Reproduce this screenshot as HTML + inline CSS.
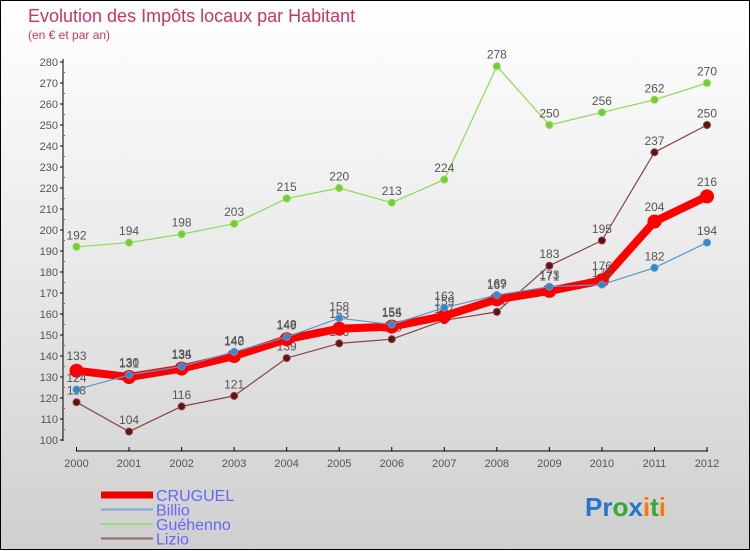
<!DOCTYPE html>
<html><head><meta charset="utf-8"><style>
body{margin:0;width:750px;height:550px;overflow:hidden;font-family:"Liberation Sans",sans-serif}
#wrap{position:relative;width:748px;height:548px;border:1px solid #000;background:linear-gradient(#fff,#f2f2f2 30%,#cfcfcf)}
svg{position:absolute;left:0;top:0}
</style></head><body>
<div id="wrap">
<svg id="c" width="750" height="550"></svg>
</div>
<script>
const years=[2000,2001,2002,2003,2004,2005,2006,2007,2008,2009,2010,2011,2012];
const cruguel=[133,130,134,140,148,153,154,159,167,171,176,204,216];
const billio=[124,131,135,142,149,158,155,163,169,173,174,182,194];
const guehenno=[192,194,198,203,215,220,213,224,278,250,256,262,270];
const lizio=[118,104,116,121,139,146,148,157,161,183,195,237,250];
const yTicks=[100,110,120,130,140,150,160,170,180,190,200,210,220,230,240,250,260,270,280];
const NS='http://www.w3.org/2000/svg';
const svg=document.getElementById('c');
const xS=i=>75.5+i*(706-75.5)/12;
const yS=v=>439-(v-100)*(439-61)/180;
function mk(t,a,p){const e=document.createElementNS(NS,t);for(const k in a)e.setAttribute(k,a[k]);(p||svg).appendChild(e);return e;}
function tx(x,y,s,sz,fill,anchor){const e=mk('text',{x:x,y:y,'font-size':sz,fill:fill,'text-anchor':anchor||'start'});e.textContent=s;return e;}
let t=tx(27,21,'Evolution des Impôts locaux par Habitant',18,'#cc3366');
t.setAttribute('font-weight','lighter');

t=tx(27,38,'(en € et par an)',12,'#cc3366');

let ax=mk('line',{x1:62,y1:58,x2:62,y2:440,stroke:'#000'});

ax=mk('line',{x1:75,y1:450,x2:707,y2:450,stroke:'#000'});

yTicks.forEach(v=>{const y=yS(v);mk('line',{x1:59,y1:y,x2:62,y2:y,stroke:'#000'});
if(v<280)mk('line',{x1:62,y1:y-10.5,x2:64,y2:y-10.5,stroke:'#e33'});
const l=tx(57,y+4,v,11,'#555','end');});
years.forEach((yr,i)=>{const x=xS(i);mk('line',{x1:x,y1:446,x2:x,y2:450,stroke:'#000'});
const l=tx(x,466,yr,11,'#555','middle');});
function series(name,data,color,w,r,dot){
 const g=mk('g',{});
 mk('polyline',{points:data.map((v,i)=>xS(i)+','+yS(v)).join(' '),fill:'none',stroke:color,'stroke-width':w,'stroke-linejoin':'round'},g);
 data.forEach((v,i)=>{const c=mk('circle',{cx:xS(i),cy:yS(v),r:r,fill:dot,stroke:color,'stroke-width':1},g);
 
 const l=tx(xS(i),yS(v)-r-4,v,12,'#555','middle');g.appendChild(l);});
}
series('guehenno',guehenno,'#88dd55',1.2,3.5,'#77cc33');
series('lizio',lizio,'#884444',1.2,3.5,'#661111');
series('cruguel',cruguel,'#ff0000',8,6.5,'#ff0000');
series('billio',billio,'#5599cc',1.2,3.5,'#3388cc');
const leg=[['CRUGUEL','#ee0000',7],['Billio','#77aacc',2],['Guéhenno','#99dd77',2],['Lizio','#996666',2]];
leg.forEach((d,i)=>{const y=494+i*14.5;const g=mk('g',{});
mk('line',{x1:100,y1:y,x2:152,y2:y,stroke:d[1],'stroke-width':d[2]},g);
const l=tx(155,y+6,d[0],16,'#6666ff');g.appendChild(l);});
const lg=mk('text',{x:584,y:515,'font-size':26,'font-weight':'bold'});
[['Pr','#2277cc'],['o','#33aa33'],['x','#2277cc'],['i','#ff7700'],['t','#33aa33'],['i','#ff7700']].forEach(p=>{const s=mk('tspan',{fill:p[1]},lg);s.textContent=p[0];});
</script>
</body></html>
